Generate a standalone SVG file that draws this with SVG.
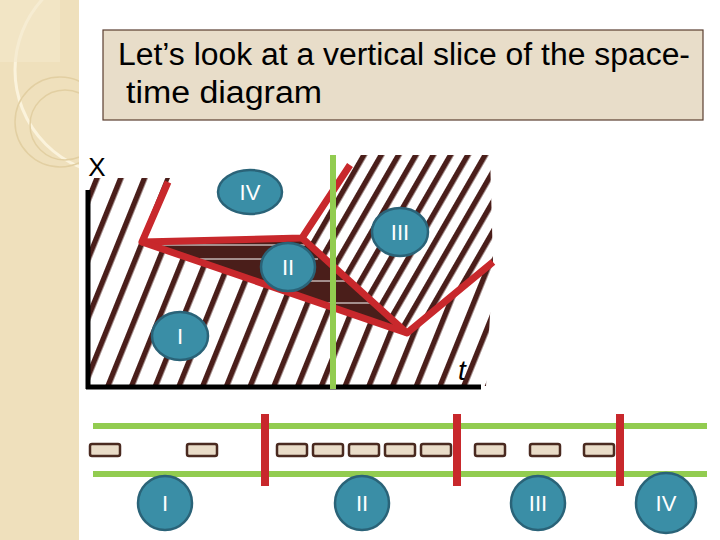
<svg xmlns="http://www.w3.org/2000/svg" width="720" height="540" viewBox="0 0 720 540">
<style>
.el{fill:#3a8ea6;stroke:#2a6378;stroke-width:2.5}
.lb{font-family:"Liberation Sans",Arial,sans-serif;font-size:22px;fill:#fff;text-anchor:middle}
.car{fill:#e9dcc8;stroke:#4a2a20;stroke-width:2.5}
.red{stroke:#c8282c;stroke-width:7;fill:none;stroke-linejoin:round}
.grn{stroke:#92cc50;stroke-width:6}
</style>
<defs>
<pattern id="h1" width="22" height="22" patternUnits="userSpaceOnUse" patternTransform="rotate(22)"><rect width="5.5" height="22" fill="#4a1e1a"/></pattern>
<pattern id="h3" width="15" height="15" patternUnits="userSpaceOnUse" patternTransform="rotate(30)"><rect width="5.5" height="15" fill="#4a1e1a"/></pattern>
<clipPath id="band"><rect width="79" height="540"/></clipPath>
</defs>
<rect width="720" height="540" fill="#fff"/>
<g id="band-deco" clip-path="url(#band)">
<rect width="79" height="540" fill="#efe0bc"/>
<circle cx="120" cy="70" r="105" fill="none" stroke="#fbf3dc" stroke-width="3"/>
<circle cx="60" cy="122" r="45" fill="none" stroke="#e2cfa2" stroke-width="1.5"/>
<circle cx="65" cy="125" r="35" fill="none" stroke="#e2cfa2" stroke-width="1.5"/>
<rect x="0" y="0" width="60" height="62" fill="#f3e8cc" opacity="0.6"/>
</g>
<g id="title">
<rect x="103" y="30" width="600" height="90" fill="#e8ddc9" stroke="#5a3e30" stroke-width="1.2"/>
<text x="118" y="65" font-family="Liberation Sans,Arial,sans-serif" font-size="31" fill="#000" textLength="572" lengthAdjust="spacingAndGlyphs">Let’s look at a vertical slice of the space-</text>
<text x="126" y="103" font-family="Liberation Sans,Arial,sans-serif" font-size="31" fill="#000" textLength="196" lengthAdjust="spacingAndGlyphs">time diagram</text>
</g>
<g id="regions">
<polygon points="88,178 170,178 142,242 407,333 493,262 486,386 88,386" fill="url(#h1)"/>
<polygon points="352,155 490,155 493,262 407,333 302,238" fill="url(#h3)"/>
<polygon points="142,242 302,238 407,333" fill="#4a1e1a"/>
<g stroke="#fff" stroke-width="1">
<line x1="160" y1="245" x2="305" y2="245"/>
<line x1="200" y1="259" x2="318" y2="259"/>
<line x1="310" y1="281" x2="345" y2="281"/>
<line x1="325" y1="303" x2="370" y2="303"/>
</g>
</g>
<g id="axes">
<line x1="88" y1="190" x2="88" y2="389" stroke="#000" stroke-width="5"/>
<line x1="86" y1="387" x2="481" y2="387" stroke="#000" stroke-width="5"/>
<text x="97" y="176" font-family="Liberation Sans,Arial,sans-serif" font-size="26" text-anchor="middle">X</text>
<text x="462" y="380" font-family="Liberation Sans,Arial,sans-serif" font-size="28" font-style="italic" text-anchor="middle">t</text>
</g>
<g id="connectors">
<polyline class="red" points="168,182 142,242 302,238 350,165"/>
<polyline class="red" points="142,242 407,333 493,262"/>
<line class="red" x1="302" y1="238" x2="407" y2="333"/>
<line class="grn" x1="333" y1="155" x2="333" y2="389" stroke-width="5"/>
<line class="grn" x1="93" y1="426" x2="707" y2="426"/>
<line class="grn" x1="93" y1="474" x2="707" y2="474"/>
<g stroke="#c8282c" stroke-width="8">
<line x1="265" y1="414" x2="265" y2="486"/>
<line x1="457" y1="414" x2="457" y2="486"/>
<line x1="620" y1="414" x2="620" y2="486"/>
</g>
</g>
<g id="cars">
<rect class="car" x="90" y="444" width="30" height="12" rx="2"/>
<rect class="car" x="187" y="444" width="30" height="12" rx="2"/>
<rect class="car" x="277" y="444" width="30" height="12" rx="2"/>
<rect class="car" x="313" y="444" width="30" height="12" rx="2"/>
<rect class="car" x="349" y="444" width="30" height="12" rx="2"/>
<rect class="car" x="385" y="444" width="30" height="12" rx="2"/>
<rect class="car" x="421" y="444" width="30" height="12" rx="2"/>
<rect class="car" x="475" y="444" width="30" height="12" rx="2"/>
<rect class="car" x="530" y="444" width="30" height="12" rx="2"/>
<rect class="car" x="584" y="444" width="30" height="12" rx="2"/>
</g>
<g id="n-IV"><ellipse class="el" cx="250" cy="192" rx="32" ry="22"/><text class="lb" x="250" y="200">IV</text></g>
<g id="n-III"><ellipse class="el" cx="400" cy="232" rx="28" ry="24"/><text class="lb" x="400" y="240">III</text></g>
<g id="n-II"><ellipse class="el" cx="288" cy="267" rx="27" ry="24"/><text class="lb" x="288" y="275">II</text></g>
<g id="n-I"><ellipse class="el" cx="180" cy="336" rx="28" ry="24"/><text class="lb" x="180" y="344">I</text></g>
<g id="b-I"><circle class="el" cx="165" cy="503" r="27"/><text class="lb" x="165" y="511">I</text></g>
<g id="b-II"><circle class="el" cx="362" cy="503" r="27"/><text class="lb" x="362" y="511">II</text></g>
<g id="b-III"><circle class="el" cx="538" cy="503" r="27"/><text class="lb" x="538" y="511">III</text></g>
<g id="b-IV"><circle class="el" cx="666" cy="503" r="30"/><text class="lb" x="666" y="511">IV</text></g>
</svg>
